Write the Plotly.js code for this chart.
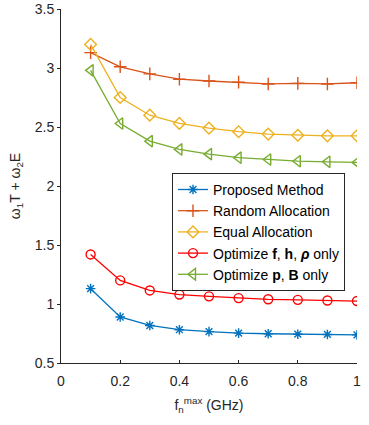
<!DOCTYPE html>
<html>
<head>
<meta charset="utf-8">
<script src="https://cdn.plot.ly/plotly-3.0.1.min.js"></script>
<style>
  html, body { margin: 0; padding: 0; background: #fff; }
  #chart { width: 369px; height: 425px; }
</style>
</head>
<body>
<div id="chart"></div>
<script>
var fmax = [0.1, 0.2, 0.3, 0.4, 0.5, 0.6, 0.7, 0.8, 0.9, 1.0];

var proposed  = [1.13, 0.89, 0.818, 0.782, 0.766, 0.753, 0.748, 0.744, 0.742, 0.738];
var randomAl  = [3.13, 3.01, 2.95, 2.905, 2.89, 2.88, 2.865, 2.87, 2.865, 2.875];
var equalAl   = [3.2, 2.75, 2.6, 2.53, 2.49, 2.46, 2.44, 2.43, 2.425, 2.425];
var optFHRho  = [1.42, 1.2, 1.115, 1.08, 1.065, 1.05, 1.04, 1.035, 1.03, 1.025];
var optPB     = [2.98, 2.53, 2.38, 2.31, 2.27, 2.24, 2.225, 2.21, 2.205, 2.2];

var names = ['Proposed Method', 'Random Allocation', 'Equal Allocation',
             'Optimize <b>f</b>, <b>h</b>, <b><i>ρ</i></b> only',
             'Optimize <b>p</b>, <b>B</b> only'];
var colors = ['#0072BD', '#D95319', '#EDB120', '#FF0000', '#77AC30'];
var symbols = ['asterisk-open', 'cross-thin-open', 'diamond-open', 'circle-open', 'triangle-left-open'];
var sizes = [8, 9, 9, 9, 10];
var series = [proposed, randomAl, equalAl, optFHRho, optPB];

var traces = series.map(function(ys, i) {
    return {
        x: fmax,
        y: ys,
        mode: 'lines+markers',
        name: names[i],
        line: { color: colors[i], width: 1.3 },
        marker: { symbol: symbols[i], size: sizes[i], color: colors[i], line: { color: colors[i], width: 1.4 } }
    };
});

var layout = {
    width: 369,
    height: 425,
    margin: { l: 61, r: 12, t: 9, b: 62 },
    paper_bgcolor: '#fff',
    plot_bgcolor: '#fff',
    font: { family: 'Liberation Sans, Arial, sans-serif', size: 14, color: '#262626' },
    showlegend: true,
    legend: {
        x: 0.375, y: 0.537, xanchor: 'left', yanchor: 'top',
        bgcolor: '#fff', bordercolor: '#262626', borderwidth: 1,
        font: { size: 14, color: '#000' },
        tracegroupgap: 0, itemwidth: 30
    },
    xaxis: {
        range: [0, 1], dtick: 0.2, tick0: 0,
        showgrid: false, zeroline: false,
        showline: true, linecolor: '#262626', linewidth: 1,
        ticks: 'inside', ticklen: 3, tickcolor: '#262626',
        ticklabelstandoff: 5,
        tickformat: '~g',
        title: { text: 'f<sub>n</sub><sup>max</sup> (GHz)', standoff: 12, font: { size: 14 } }
    },
    yaxis: {
        range: [0.5, 3.5], dtick: 0.5, tick0: 0.5,
        showgrid: false, zeroline: false,
        showline: true, linecolor: '#262626', linewidth: 1,
        ticks: 'outside', ticklen: 3, tickcolor: '#262626',
        tickformat: '~g',
        title: { text: 'ω<sub>1</sub>T + ω<sub>2</sub>E', standoff: 10, font: { size: 14 } }
    }
};

Plotly.newPlot('chart', traces, layout, { displayModeBar: false, staticPlot: true });
</script>
</body>
</html>
